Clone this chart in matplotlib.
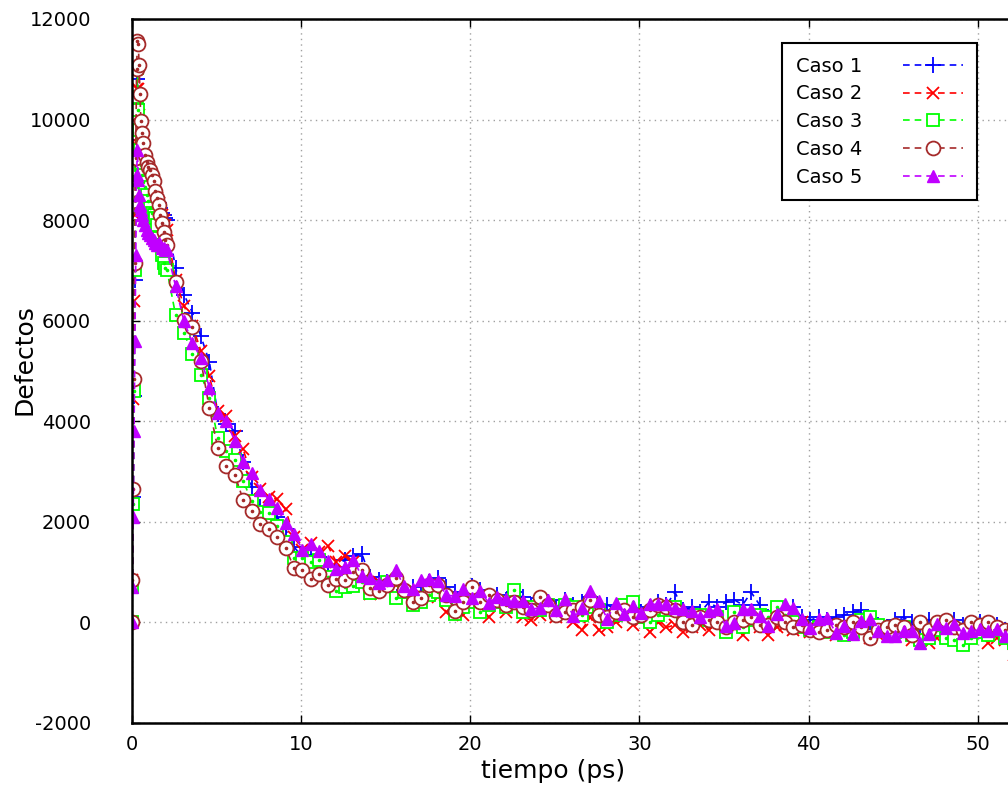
import matplotlib
matplotlib.use("Agg")
import numpy as np
import matplotlib.pyplot as plt

plt.rcParams["axes.unicode_minus"] = False

# tiempos de muestreo (ps)
t_early = [0, 0.05, 0.1, 0.15, 0.2, 0.25, 0.3, 0.35, 0.4, 0.45, 0.5, 0.55, 0.6,
           0.7, 0.8, 0.9, 1.0, 1.1, 1.2, 1.3, 1.4, 1.5, 1.6, 1.7, 1.8, 1.9, 2.0, 2.1]
t_late = [2.6, 3.1, 3.6, 4.1, 4.6, 5.1, 5.6, 6.1, 6.6, 7.1,
          7.6, 8.1, 8.6, 9.1, 9.6, 10.1, 10.6, 11.1, 11.6, 12.1,
          12.6, 13.1, 13.6, 14.1, 14.6, 15.1, 15.6, 16.1, 16.6, 17.1,
          17.6, 18.1, 18.6, 19.1, 19.6, 20.1, 20.6, 21.1, 21.6, 22.1,
          22.6, 23.1, 23.6, 24.1, 24.6, 25.1, 25.6, 26.1, 26.6, 27.1,
          27.6, 28.1, 28.6, 29.1, 29.6, 30.1, 30.6, 31.1, 31.6, 32.1,
          32.6, 33.1, 33.6, 34.1, 34.6, 35.1, 35.6, 36.1, 36.6, 37.1,
          37.6, 38.1, 38.6, 39.1, 39.6, 40.1, 40.6, 41.1, 41.6, 42.1,
          42.6, 43.1, 43.6, 44.1, 44.6, 45.1, 45.6, 46.1, 46.6, 47.1,
          47.6, 48.1, 48.6, 49.1, 49.6, 50.1, 50.6, 51.1, 51.6, 52.1]

caso1 = [0, 800, 2500, 4500, 6800, 8800, 10300, 10800, 10400, 9900,
         9600, 9400, 9300, 9150, 9050, 8950, 8900, 8800, 8700, 8600,
         8550, 8450, 8350, 8250, 8150, 8100, 8050, 8000,
         7050, 6520, 6160, 5690, 5180, 4150, 3950, 3800, 3200, 2700,
         2300, 2200, 2100, 1850, 1500, 1300, 1350, 1300, 1150, 1100,
         1250, 1320, 1370, 900, 850, 800, 900, 650, 700, 600,
         800, 880, 700, 600, 500, 720, 650, 500, 550, 450,
         600, 500, 350, 480, 400, 300, 450, 350, 400, 500,
         300, 350, 250, 300, 350, 200, 300, 400, 350, 600,
         250, 300, 200, 400, 300, 400, 450, 350, 600, 350,
         100, 200, 150, 300, 100, 50, 100, 50, 100, 150,
         200, 250, 0, -50, -100, 50, 100, 0, -50, 50,
         -100, 0, 50, -50, -100, 0, -100, -50, -150, -100]

caso2 = [0, 850, 4450, 6400, 8100, 9500, 10600, 11000, 10600, 10100,
         9700, 9500, 9350, 9200, 9100, 9000, 8950, 8850, 8750, 8650,
         8550, 8450, 8350, 8250, 8100, 8000, 7900, 7800,
         6800, 6300, 5900, 5400, 4900, 4200, 4100, 3700, 3440, 2900,
         2650, 2500, 2445, 2250, 1700, 1450, 1585, 1400, 1520, 1200,
         1320, 1200, 900, 560, 800, 700, 750, 600, 500, 550,
         650, 500, 200, 300, 150, 400, 300, 100, 350, 200,
         300, 100, 50, 150, 250, 100, 200, 0, -150, 100,
         -150, -100, 0, 100, -50, 50, -200, 0, -100, -50,
         -200, -100, -50, -150, 0, -200, -100, -250, 0, -100,
         -250, -100, -50, -150, 0, -200, -100, -150, -250, -100,
         -200, -150, -300, -250, -100, -200, -150, -350, -300, -400,
         -300, -200, -250, -350, -300, -200, -400, -300, -350, -650]

caso3 = [0, 700, 2350, 4600, 7000, 9000, 10450, 11030, 10200, 9800,
         9400, 9100, 8900, 8750, 8650, 8500, 8380, 8250, 8150, 8100,
         8050, 7900, 7650, 7500, 7300, 7150, 7050, 7000,
         6120, 5760, 5330, 4930, 4470, 3670, 3400, 3240, 2810, 2410,
         2200, 2180, 1910, 1600, 1290, 1290, 1200, 1250, 900, 620,
         700, 720, 800, 590, 700, 800, 490, 600, 340, 400,
         550, 600, 450, 160, 300, 400, 200, 350, 400, 300,
         650, 200, 300, 250, 350, 200, 350, 300, 150, 300,
         250, 0, 150, 350, 400, 100, 0, 150, 250, 300,
         100, 0, 150, 50, 100, -200, 200, -100, 50, 150,
         100, 300, 150, 0, -100, -150, -100, -200, -100, -250,
         -200, 50, 100, -50, -150, -200, -100, -250, -350, -300,
         -150, -300, -350, -450, -300, -200, -250, -150, -300, -400]

caso4 = [0, 850, 2650, 4850, 7150, 9240, 11000, 11570, 11500, 11090,
         10500, 9980, 9740, 9540, 9300, 9160, 9050, 9000, 8900, 8770,
         8570, 8450, 8300, 8110, 7950, 7770, 7600, 7500,
         6770, 6020, 5880, 5200, 4260, 3460, 3120, 2940, 2430, 2210,
         1950, 1860, 1700, 1480, 1090, 1040, 855, 955, 735, 870,
         840, 1000, 1050, 690, 620, 735, 890, 650, 400, 490,
         735, 735, 555, 225, 400, 700, 400, 550, 450, 350,
         400, 300, 250, 500, 350, 150, 200, 250, 300, 450,
         150, 100, 200, 250, 100, 150, 250, 350, 300, 250,
         0, -50, 100, 50, 0, -100, 0, 50, 100, -50,
         -50, 100, 0, -100, -50, -150, -200, -150, -50, -100,
         0, -100, -300, -150, -100, -50, -100, -250, 0, -150,
         0, 50, -100, -150, 0, -50, 0, -100, -150, -100]

caso5 = [0, 700, 2100, 3800, 5600, 7300, 8900, 9400, 8800, 8500,
         8300, 8200, 8100, 8000, 7900, 7800, 7750, 7700, 7650, 7600,
         7550, 7500, 7550, 7500, 7450, 7450, 7400, 7400,
         6690, 5990, 5560, 5260, 4670, 4170, 4000, 3610, 3190, 2980,
         2640, 2450, 2280, 1980, 1750, 1450, 1550, 1420, 1220, 1070,
         1110, 1250, 920, 890, 790, 840, 1050, 720, 660, 850,
         855, 820, 540, 525, 660, 490, 620, 390, 510, 460,
         420, 420, 260, 290, 440, 245, 460, 125, 290, 620,
         420, 70, 390, 160, 325, 190, 360, 360, 360, 290,
         260, 225, 110, 225, 260, -70, -10, 260, 260, 125,
         -70, 160, 360, 290, 60, -105, 60, 90, -205, -70,
         -240, 25, 60, -170, -270, -270, -170, -170, -400, -240,
         -40, -105, -40, -205, -170, -140, -170, -140, -270, -260]

labels = ["Caso 1", "Caso 2", "Caso 3", "Caso 4", "Caso 5"]
colors = ["#0000ff", "#ff0000", "#00ff00", "#a52a2a", "#c000ff"]

tiempo = np.array(t_early + t_late)
series = [caso1, caso2, caso3, caso4, caso5]

fig = plt.figure(figsize=(10.08, 7.91), dpi=100)
# el eje continua mas alla del borde derecho, como en el original
ax = fig.add_axes([131.5 / 1008, 68 / 791, 60 * 16.93 / 1008, 704 / 791])

dash = (0, (4, 3))
styles = [
    dict(marker="+", markersize=11, markeredgewidth=1.3, markerfacecolor="none"),
    dict(marker="x", markersize=9, markeredgewidth=1.3, markerfacecolor="none"),
    dict(marker="s", markersize=9, markeredgewidth=1.3, markerfacecolor="white"),
    dict(marker="o", markersize=10, markeredgewidth=1.3, markerfacecolor="white"),
    dict(marker="^", markersize=9, markeredgewidth=1.0),
]

handles = []
for vals, lab, col, st in zip(series, labels, colors, styles):
    h, = ax.plot(tiempo, vals, color=col, linestyle=dash, linewidth=1.2,
                 label=lab, **st)
    handles.append(h)
    if st["marker"] in ("s", "o"):
        # punto central de gnuplot
        ax.plot(tiempo, vals, linestyle="none", marker="o", markersize=1.6,
                color=col)

ax.set_xlim(0, 60)
ax.set_ylim(-2000, 12000)
ax.set_xticks(np.arange(0, 60, 10))
ax.set_yticks(np.arange(-2000, 14000, 2000))
ax.tick_params(direction="in", top=True, right=True, length=6, width=1,
               labelsize=14)
ax.tick_params(axis="y", pad=29)
ax.tick_params(axis="x", pad=9)
ax.grid(True, linestyle=(0, (1, 3)), color="#a0a0a0", linewidth=1)
for sp in ax.spines.values():
    sp.set_linewidth(1.8)

fig.text(25 / 1008, 1 - 360 / 791, "Defectos", rotation=90, ha="center",
         va="center", fontsize=18)
fig.text(553 / 1008, 1 - 771 / 791, "tiempo (ps)", ha="center", va="center",
         fontsize=18)

leg = ax.legend(handles, labels, loc="upper right",
                bbox_to_anchor=(977 / 1008, 1 - 43 / 791),
                bbox_transform=fig.transFigure, borderaxespad=0,
                markerfirst=False, fancybox=False, edgecolor="black",
                framealpha=1, fontsize=14, handlelength=3.1,
                labelspacing=0.45, borderpad=0.7, handletextpad=2.1)
leg.get_frame().set_linewidth(1.5)

fig.savefig("out.png", dpi=100)
